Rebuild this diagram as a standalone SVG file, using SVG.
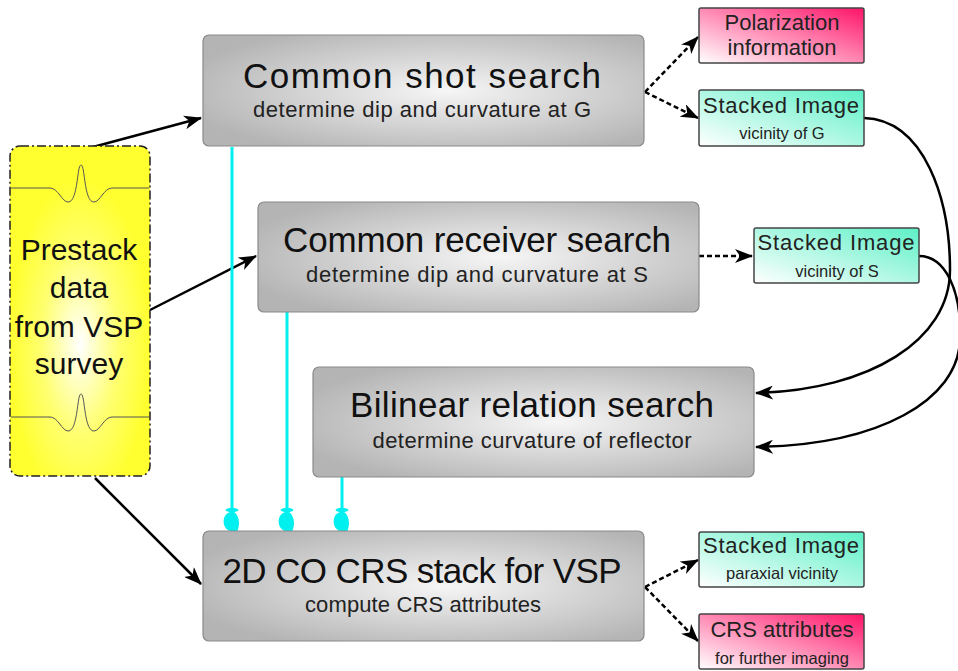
<svg xmlns="http://www.w3.org/2000/svg" width="958" height="671" viewBox="0 0 958 671">
<defs>
<radialGradient id="gGray" cx="0.55" cy="0.5" r="0.62">
<stop offset="0" stop-color="#f6f6f6"/>
<stop offset="1" stop-color="#b4b4b4"/>
</radialGradient>
<radialGradient id="gYellow" cx="0.5" cy="0.6" r="0.5">
<stop offset="0" stop-color="#ffffff"/>
<stop offset="0.55" stop-color="#ffff70"/>
<stop offset="1" stop-color="#ffff30"/>
</radialGradient>
<linearGradient id="gTeal" x1="0" y1="1" x2="1" y2="0">
<stop offset="0" stop-color="#ffffff"/>
<stop offset="1" stop-color="#5cf0c6"/>
</linearGradient>
<linearGradient id="gPink" x1="0" y1="1" x2="1" y2="0">
<stop offset="0" stop-color="#ffffff"/>
<stop offset="1" stop-color="#ff1468"/>
</linearGradient>
<marker id="ah" markerWidth="18" markerHeight="14" refX="17" refY="7" orient="auto" markerUnits="userSpaceOnUse">
<path d="M0,0 L18,7 L0,14 L5,7 z" fill="#000"/>
</marker>
<g id="hand">
<ellipse cx="0" cy="-21" rx="6.5" ry="2.2" fill="#00f0f0"/>
<path d="M-2,-19 C-8,-17 -10,-10 -7,-4 C-5,0 0,0 1,2 L2,8 C4,3 7,-2 7,-8 C7,-14 4,-18 2,-19 z" fill="#00f0f0"/>
</g>
<style>
.box{fill:url(#gGray);stroke:#8a8a8a;stroke-width:1.2}
.teal{fill:url(#gTeal);stroke:#444;stroke-width:1.5}
.pink{fill:url(#gPink);stroke:#444;stroke-width:1.5}
text{font-family:"Liberation Sans",Arial,sans-serif;fill:#111;text-anchor:middle}
.t{font-size:35px}
.s{font-size:22px;fill:#222}
.st{font-size:22px;fill:#222}
.ss{font-size:16.5px;fill:#222}
.pt{font-size:30px}
.solid{fill:none;stroke:#000;stroke-width:2.5}
.dash{fill:none;stroke:#000;stroke-width:2.5;stroke-dasharray:5,3}
.cyan{fill:none;stroke:#00f0f0;stroke-width:3}
.wave{fill:none;stroke:#555;stroke-width:1}
</style>
</defs>

<g id="connectors">
<path class="solid" d="M93,147 L201,118" marker-end="url(#ah)"/>
<path class="solid" d="M150,310 L256,256" marker-end="url(#ah)"/>
<path class="solid" d="M95,478 L201,584" marker-end="url(#ah)"/>
<path class="dash" d="M645,92 L698,37" marker-end="url(#ah)"/>
<path class="dash" d="M645,92 L698,118" marker-end="url(#ah)"/>
<path class="dash" d="M699,256 L752,256" marker-end="url(#ah)"/>
<path class="dash" d="M645,587 L698,560" marker-end="url(#ah)"/>
<path class="dash" d="M645,587 L698,641" marker-end="url(#ah)"/>
<path class="solid" d="M864,118 C925,120 950,200 950,270 C950,340 870,390 756,393" marker-end="url(#ah)"/>
<path class="solid" d="M919,256 C945,256 962,290 960,340 C958,400 880,445 756,447" marker-end="url(#ah)"/>
<path class="cyan" d="M232,147 L232,515"/>
<path class="cyan" d="M287,312 L287,515"/>
<path class="cyan" d="M342,477 L342,515"/>
<use href="#hand" x="232" y="531"/>
<use href="#hand" x="287" y="531"/>
<use href="#hand" x="342" y="531"/>
</g>

<g id="prestack">
<rect x="10" y="146" width="140" height="330" rx="10" fill="url(#gYellow)" stroke="#222" stroke-width="1.5" stroke-dasharray="9,3,2,3"/>
<path class="wave" d="M11,188 L50,188 C58,188 62,202 68,202 C74,202 76,190 78,175 C79,167 80,165 81,165 C82,165 83,167 84,175 C86,190 88,202 94,202 C100,202 104,188 112,188 L149,188"/>
<path class="wave" d="M11,417 L50,417 C58,417 62,431 68,431 C74,431 76,419 78,404 C79,396 80,394 81,394 C82,394 83,396 84,404 C86,419 88,431 94,431 C100,431 104,417 112,417 L149,417"/>
<text class="pt" x="79" y="260">Prestack</text>
<text class="pt" x="79" y="298">data</text>
<text class="pt" x="79" y="337">from VSP</text>
<text class="pt" x="79" y="374">survey</text>
</g>

<g id="shot">
<rect class="box" x="203" y="35" width="441" height="111" rx="6"/>
<text class="t" x="422" y="88" textLength="358">Common shot search</text>
<text class="s" x="422" y="117" textLength="338">determine dip and curvature at G</text>
</g>

<g id="receiver">
<rect class="box" x="258" y="202" width="441" height="110" rx="6"/>
<text class="t" x="477" y="252" textLength="388">Common receiver search</text>
<text class="s" x="477" y="282" textLength="342">determine dip and curvature at S</text>
</g>

<g id="bilinear">
<rect class="box" x="313" y="367" width="441" height="110" rx="6"/>
<text class="t" x="532" y="417" textLength="364">Bilinear relation search</text>
<text class="s" x="532" y="448" textLength="319">determine curvature of reflector</text>
</g>

<g id="crsstack">
<rect class="box" x="203" y="531" width="441" height="110" rx="6"/>
<text class="t" x="422" y="583" textLength="399">2D CO CRS stack for VSP</text>
<text class="s" x="423" y="612" textLength="236">compute CRS attributes</text>
</g>

<g id="polarization">
<rect class="pink" x="699" y="8" width="165" height="55" rx="2"/>
<text class="st" x="782" y="30">Polarization</text>
<text class="st" x="782" y="55">information</text>
</g>

<g id="stackG">
<rect class="teal" x="699" y="90" width="165" height="56" rx="2"/>
<text class="st" x="781" y="113" textLength="156">Stacked Image</text>
<text class="ss" x="782" y="139">vicinity of G</text>
</g>

<g id="stackS">
<rect class="teal" x="754" y="228" width="165" height="55" rx="2"/>
<text class="st" x="836" y="250" textLength="157">Stacked Image</text>
<text class="ss" x="837" y="277">vicinity of S</text>
</g>

<g id="stackP">
<rect class="teal" x="699" y="532" width="165" height="55" rx="2"/>
<text class="st" x="781" y="553" textLength="156">Stacked Image</text>
<text class="ss" x="782" y="579">paraxial vicinity</text>
</g>

<g id="crsattr">
<rect class="pink" x="699" y="614" width="165" height="55" rx="2"/>
<text class="st" x="782" y="637">CRS attributes</text>
<text class="ss" x="782" y="664">for further imaging</text>
</g>
</svg>
